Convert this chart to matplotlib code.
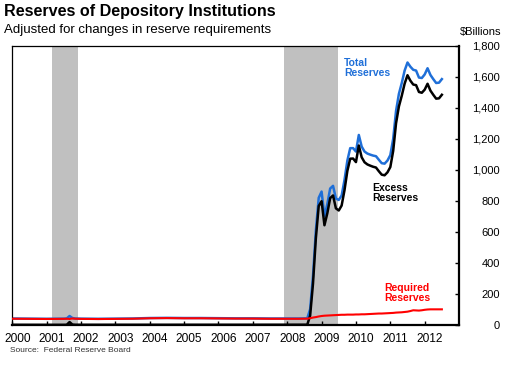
import matplotlib
matplotlib.use("Agg")
import matplotlib.pyplot as plt
import matplotlib.transforms as mtransforms

plt.rcParams['font.family'] = ['Liberation Sans', 'DejaVu Sans']

# monthly observations (sparser before 2008 where the lines are flat)
dates = ["2000-01", "2000-07", "2001-01", "2001-07", "2001-08", "2001-09", "2001-10", "2001-11",
         "2002-01", "2002-07", "2003-01", "2003-07", "2004-01", "2004-07", "2005-01", "2005-07",
         "2006-01", "2006-07", "2007-01", "2007-07", "2008-01", "2008-05", "2008-08",
         "2008-09", "2008-10", "2008-11", "2008-12",
         "2009-01", "2009-02", "2009-03", "2009-04", "2009-05", "2009-06",
         "2009-07", "2009-08", "2009-09", "2009-10", "2009-11", "2009-12",
         "2010-01", "2010-02", "2010-03", "2010-04", "2010-05", "2010-06",
         "2010-07", "2010-08", "2010-09", "2010-10", "2010-11", "2010-12",
         "2011-01", "2011-02", "2011-03", "2011-04", "2011-05", "2011-06",
         "2011-07", "2011-08", "2011-09", "2011-10", "2011-11", "2011-12",
         "2012-01", "2012-02", "2012-03", "2012-04", "2012-05", "2012-06", "2012-07"]

total_reserves = [42, 41, 40, 41, 42, 58, 45, 42,
                  41, 40, 41, 42, 45, 46, 45, 45,
                  44, 43, 43, 42, 42, 42, 43,
                  102, 315, 609, 820,
                  860, 700, 780, 880, 897, 815,
                  806, 835, 935, 1060, 1140, 1140,
                  1118, 1225, 1150, 1118, 1105, 1098,
                  1092, 1088, 1065, 1043, 1040, 1060,
                  1095, 1200, 1380, 1490, 1560, 1640,
                  1692, 1665, 1645, 1640, 1595, 1592,
                  1615, 1655, 1612, 1585, 1560, 1562, 1585]

excess_reserves = [1.5, 1.3, 1.2, 1.2, 1.5, 19, 3, 1.5,
                   1.6, 1.5, 1.6, 1.5, 1.6, 1.5, 1.7, 1.6,
                   1.7, 1.6, 1.7, 1.8, 1.8, 1.9, 2,
                   60, 267, 559, 767,
                   798, 643, 720, 818, 835, 752,
                   738, 770, 869, 993, 1072, 1073,
                   1050, 1157, 1081, 1049, 1035, 1027,
                   1020, 1015, 991, 969, 965, 984,
                   1018, 1122, 1300, 1409, 1478, 1556,
                   1610, 1575, 1550, 1546, 1502, 1497,
                   1517, 1555, 1511, 1484, 1459, 1461, 1484]

required_reserves = [40.5, 39.7, 38.8, 39.8, 40.5, 39, 42, 40.5,
                     39.4, 38.5, 39.4, 40.5, 43.4, 44.5, 43.3, 43.4,
                     42.3, 41.4, 41.3, 40.2, 40.2, 40.1, 41,
                     44, 48, 51, 55,
                     58, 60, 61, 62, 63, 64,
                     65, 66, 66, 67, 67, 67,
                     68, 68, 69, 69, 70, 71,
                     72, 73, 74, 74, 75, 76,
                     77, 78, 80, 81, 82, 84,
                     86, 90, 95, 94, 93, 95,
                     98, 100, 101, 101, 101, 101, 101]

recessions = [(2001.17, 2001.92), (2007.92, 2009.47)]
years = list(range(2000, 2013))
yticks = list(range(0, 1801, 200))

x = [int(d[:4]) + (int(d[5:]) - 1) / 12 for d in dates]

fig = plt.figure(figsize=(5.10, 3.66), dpi=100)
ax = fig.add_axes([0.0241, 0.112, 0.876, 0.763])

for start, end in recessions:
    ax.axvspan(start, end, color='#c0c0c0', lw=0, zorder=0)

ax.plot(x, required_reserves, color='#ff0000', lw=1.5, zorder=3)
ax.plot(x, total_reserves, color='#1f6fd8', lw=1.8, zorder=2, solid_joinstyle='round')
ax.plot(x, excess_reserves, color='black', lw=1.8, zorder=2, solid_joinstyle='round')

ax.set_xlim(2000, 2013)
ax.set_ylim(0, 1800)

ax.yaxis.tick_right()
ax.set_yticks(yticks)
ax.set_yticklabels([f'{v:,}' for v in yticks], fontsize=8, ha='right')
ax.tick_params(axis='y', direction='in', length=3, width=1, pad=29.5)
ax.set_xticks(years)
ax.set_xticklabels([str(y) for y in years], fontsize=8.6)
ax.tick_params(axis='x', direction='in', length=3, width=1, pad=6)
shift = mtransforms.ScaledTranslation(5 / 100, 0, fig.dpi_scale_trans)
for lab in ax.get_xticklabels():
    lab.set_transform(lab.get_transform() + shift)

for side in ['left', 'top']:
    ax.spines[side].set_linewidth(0.9)
for side in ['right', 'bottom']:
    ax.spines[side].set_linewidth(1.6)

ax.text(2009.65, 1722, 'Total\nReserves', color='#1f6fd8', fontsize=7.5,
        fontweight='bold', va='top', ha='left', linespacing=1.0)
ax.text(2010.47, 916, 'Excess\nReserves', color='black', fontsize=7.5,
        fontweight='bold', va='top', ha='left', linespacing=1.0)
ax.text(2010.82, 271, 'Required\nReserves', color='#ff0000', fontsize=7.5,
        fontweight='bold', va='top', ha='left', linespacing=1.0)

fig.text(4 / 510, 1 - 4 / 366, 'Reserves of Depository Institutions', fontsize=11.6,
         fontweight='bold', va='top', ha='left')
fig.text(4 / 510, 1 - 24 / 366, 'Adjusted for changes in reserve requirements',
         fontsize=9.5, va='top', ha='left')
fig.text(501 / 510, 1 - 27 / 366, '$Billions', fontsize=8, va='top', ha='right')
fig.text(10 / 510, 1 - 351 / 366, 'Source:  Federal Reserve Board', fontsize=6,
         color='#333333', va='center', ha='left')

fig.savefig('out.png', dpi=100)
